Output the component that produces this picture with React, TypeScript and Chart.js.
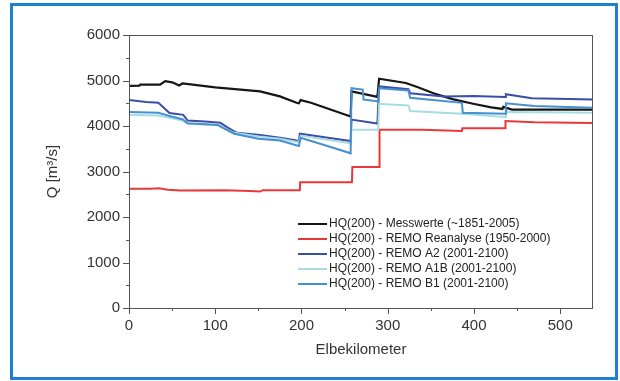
import React, { useEffect, useRef } from 'react';
import { Chart, registerables } from 'chart.js';

Chart.register(...registerables);

// Elbekilometer / Q [m3/s]
const messKm = [0, 12, 13, 36, 42, 50, 57, 58, 62, 100, 152, 175, 195, 197, 199, 211, 257, 258, 288, 290, 321, 335, 353, 375, 399, 420, 433, 434, 444, 538];
const messQ = [4880, 4885, 4910, 4910, 4985, 4960, 4900, 4890, 4935, 4850, 4760, 4650, 4505, 4500, 4570, 4510, 4210, 4760, 4640, 5040, 4945, 4850, 4720, 4590, 4490, 4410, 4375, 4420, 4360, 4360];

const reaKm = [0, 25, 35, 45, 60, 110, 140, 152, 155, 198, 198.5, 258.5, 259, 290, 290.5, 340, 386, 386.5, 436, 436.5, 470, 538];
const reaQ = [2620, 2620, 2630, 2600, 2580, 2590, 2570, 2560, 2590, 2590, 2765, 2765, 3100, 3100, 3920, 3915, 3890, 3950, 3950, 4110, 4080, 4065];

const a2Km = [0, 20, 34, 47, 63, 68, 88, 106, 115, 125, 152, 175, 193, 197, 198, 257, 258, 288, 290, 324, 326, 365, 400, 436, 437, 467, 538];
const a2Q = [4570, 4525, 4510, 4285, 4245, 4120, 4100, 4070, 3960, 3850, 3800, 3740, 3690, 3660, 3830, 3670, 4140, 4055, 4870, 4810, 4720, 4650, 4660, 4640, 4700, 4610, 4580];

const a1bKm = [0, 34, 47, 62, 68, 103, 122, 150, 175, 195, 197, 199, 257, 258, 289, 290, 324, 326, 386, 436, 437, 538];
const a1bQ = [4250, 4230, 4180, 4120, 4050, 4020, 3850, 3770, 3720, 3650, 3640, 3790, 3620, 3920, 3920, 4490, 4450, 4330, 4270, 4200, 4310, 4290];

const b1Km = [0, 34, 47, 62, 68, 103, 122, 150, 175, 195, 197, 199, 230, 257, 258, 271, 272, 289, 290, 324, 326, 386, 387, 436, 437, 470, 538];
const b1Q = [4310, 4290, 4220, 4150, 4060, 4020, 3830, 3720, 3680, 3570, 3560, 3740, 3560, 3400, 4830, 4800, 4580, 4540, 4830, 4780, 4620, 4510, 4290, 4270, 4500, 4440, 4400];

const seriesLabels = [
  'HQ(200) - Messwerte (~1851-2005)',
  'HQ(200) - REMO Reanalyse (1950-2000)',
  'HQ(200) - REMO A2 (2001-2100)',
  'HQ(200) - REMO A1B (2001-2100)',
  'HQ(200) - REMO B1 (2001-2100)',
];
const seriesColors = ['#161616', '#e8393a', '#3b4fa6', '#a7dde0', '#468fd2'];

const FONT = 'Arial, "Liberation Sans", sans-serif';

const toPts = (km: number[], q: number[]) => km.map((x, i) => ({ x, y: q[i] }));

export default function App() {
  const ref = useRef<HTMLCanvasElement>(null);
  useEffect(() => {
    document.body.style.margin = '0';
    const canvas = ref.current!;
    const boxPlugin = {
      id: 'boxTicksLegend',
      afterDraw(chart: any) {
        const { ctx, chartArea: a, scales } = chart;
        ctx.save();
        ctx.strokeStyle = '#555';
        ctx.lineWidth = 1;
        ctx.strokeRect(a.left + 0.5, a.top + 0.5, a.right - a.left - 1, a.bottom - a.top);
        for (let v = 0; v <= 6000; v += 500) {
          const y = Math.round(scales.y.getPixelForValue(v)) + 0.5;
          const len = v % 1000 === 0 ? 6 : 3;
          ctx.beginPath();
          ctx.moveTo(a.left - len, y);
          ctx.lineTo(a.left, y);
          ctx.stroke();
        }
        for (let v = 0; v <= 500; v += 50) {
          const x = Math.round(scales.x.getPixelForValue(v)) + 0.5;
          const len = v % 100 === 0 ? 6 : 3;
          ctx.beginPath();
          ctx.moveTo(x, a.bottom);
          ctx.lineTo(x, a.bottom + len);
          ctx.stroke();
        }
        // legend
        const ds = chart.data.datasets;
        ctx.font = '12px ' + FONT;
        ctx.textBaseline = 'middle';
        ctx.textAlign = 'left';
        ds.forEach((d: any, i: number) => {
          const y = 224 + i * 15;
          ctx.strokeStyle = d.borderColor;
          ctx.lineWidth = 2;
          ctx.beginPath();
          ctx.moveTo(298, y);
          ctx.lineTo(327, y);
          ctx.stroke();
          ctx.fillStyle = '#222';
          ctx.fillText(d.label, 329, y);
        });
        ctx.restore();
      },
    };

    const series = [
      toPts(messKm, messQ),
      toPts(reaKm, reaQ),
      toPts(a2Km, a2Q),
      toPts(a1bKm, a1bQ),
      toPts(b1Km, b1Q),
    ];
    const order = [3, 4, 2, 1, 0];
    const chart = new Chart(canvas, {
      type: 'line',
      data: {
        datasets: series.map((data, i) => ({
          label: seriesLabels[i],
          data,
          borderColor: seriesColors[i],
          backgroundColor: seriesColors[i],
          borderWidth: i === 0 ? 2.2 : 2,
          pointRadius: 0,
          tension: 0,
          fill: false,
          order: order[i],
        })),
      },
      options: {
        animation: false,
        responsive: false,
        devicePixelRatio: 1,
        layout: { padding: { left: 0, top: 35, right: 27, bottom: 0 } },
        plugins: { legend: { display: false }, tooltip: { enabled: false } },
        scales: {
          x: {
            type: 'linear',
            min: 0,
            max: 538,
            grid: { display: false, drawTicks: false },
            border: { display: false },
            ticks: { stepSize: 100, includeBounds: false, padding: 9, color: '#333', font: { family: FONT, size: 15 }, maxRotation: 0, callback: (v: any) => String(v) },
            title: { display: true, text: 'Elbekilometer', color: '#333', font: { family: FONT, size: 15 }, padding: { top: 0, bottom: 22 } },
            afterFit: (s: any) => { s.height = 73; },
          },
          y: {
            type: 'linear',
            min: 0,
            max: 6000,
            grid: { display: false, drawTicks: false },
            border: { display: false },
            ticks: { stepSize: 1000, padding: 9, color: '#333', font: { family: FONT, size: 15 }, callback: (v: any) => String(v) },
            title: { display: true, text: 'Q [m³/s]', color: '#333', font: { family: FONT, size: 15 }, padding: { top: 44, bottom: 0 } },
            afterFit: (s: any) => { s.width = 129; },
          },
        },
      },
      plugins: [boxPlugin],
    });
    return () => chart.destroy();
  }, []);

  return (
    <div style={{ position: 'relative', width: 620, height: 381, background: '#fff' }}>
      <canvas ref={ref} width={620} height={381} style={{ position: 'absolute', left: 0, top: 0, width: 620, height: 381 }} />
      <div
        style={{
          position: 'absolute',
          left: 10,
          top: 3,
          width: 608,
          height: 377,
          boxSizing: 'border-box',
          border: '3px solid #1f80d0',
          pointerEvents: 'none',
        }}
      />
    </div>
  );
}
